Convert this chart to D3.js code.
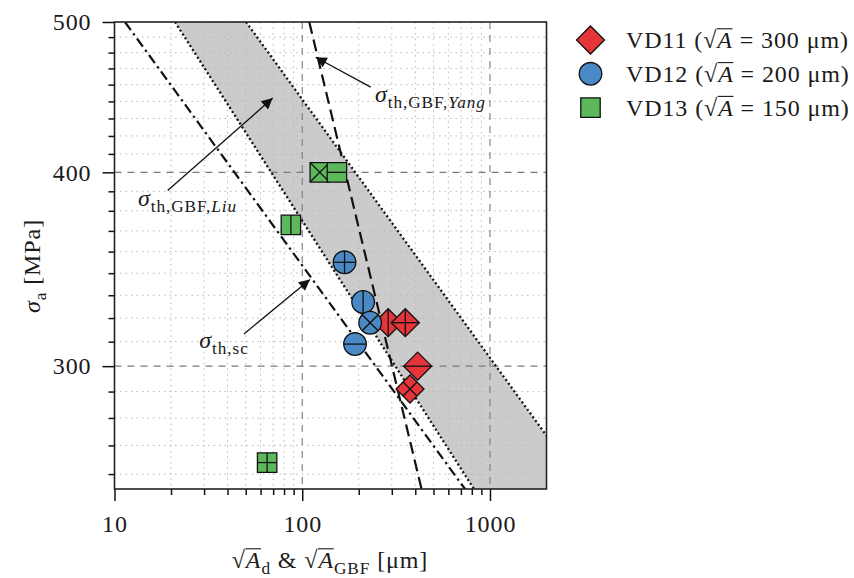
<!DOCTYPE html>
<html>
<head>
<meta charset="utf-8">
<script src="https://cdn.jsdelivr.net/npm/d3@7"></script>
<style>
  body { margin: 0; background: #fff; }
  svg { display: block; }
  text { font-family: "Liberation Serif", "Times New Roman", serif; fill: #1a1a1a; letter-spacing: 0.9px; }
</style>
</head>
<body>
<svg id="chart" width="854" height="578"></svg>
<script>
// ---------------- data ----------------
const xDomain = [10, 2000];            // sqrt(area) [µm]
const yDomain = [250, 500];            // stress amplitude [MPa]
const xMajorTicks = [10, 100, 1000];
const yMajorTicks = [300, 400, 500];
const xMinorTicks = [20, 30, 40, 50, 60, 70, 80, 90, 200, 300, 400, 500, 600, 700, 800, 900];
const yMinorTicks = [255.6, 266.7, 277.8, 288.9, 311.1, 322.2, 333.3, 344.4, 355.6, 366.7,
                     377.8, 388.9, 411.1, 422.2, 433.3, 444.4, 455.6, 466.7, 477.8, 488.9];

// specimens
const specimenNames = ["VD11", "VD12", "VD13"];
const specimenArea = [300, 200, 150];
const specimenShape = ["diamond", "circle", "square"];
const specimenColor = ["#e3353a", "#4a89c5", "#5cb85a"];

// defect / GBF size and stress amplitude per specimen, with the inner glyph of each point
const vd11X = [287, 354, 412, 375];
const vd11Y = [320, 320, 300, 290];
const vd11Glyph = ["|", "+", "-", "x"];
const vd12X = [168, 211, 230, 191];
const vd12Y = [350, 330, 320, 310];
const vd12Glyph = ["+", "|", "x", "-"];
const vd13X = [124, 153, 87, 65];
const vd13Y = [400, 400, 370, 260];
const vd13Glyph = ["x", "-", "|", "+"];

// threshold lines (straight in log-log), each given by two points [x, sigma]
const scLine = [[11.37, 500], [736, 250]];
const liuLower = [[21.0, 500], [821.7, 250]];
const liuUpper = [[50.2, 500], [2000, 270.6]];
const yangLine = [[109, 500], [432, 250]];

// annotations: text anchor and arrow tail/tip, in data units
const annotations = [
  { parts: [{ t: "σ", it: true }, { t: "th,GBF,", sub: true }, { t: "Liu", sub: true, it: true }],
    at: [13.34, 380.6], from: [19.2, 389.3], to: [69.6, 446.6] },
  { parts: [{ t: "σ", it: true }, { t: "th,GBF,", sub: true }, { t: "Yang", sub: true, it: true }],
    at: [244, 444.3], from: [231.5, 453.9], to: [117.9, 474.5] },
  { parts: [{ t: "σ", it: true }, { t: "th,sc", sub: true }],
    at: [28.3, 308.3], from: [48.9, 314.7], to: [110, 341.2] }
];

// ---------------- layout ----------------
const svg = d3.select("#chart");
const plot = { left: 114.5, right: 546.5, top: 22, bottom: 489 };
const x = d3.scaleLog().domain(xDomain).range([plot.left, plot.right]);
const y = d3.scaleLog().domain(yDomain).range([plot.bottom, plot.top]);
const FS = 24;

svg.append("defs").append("clipPath").attr("id", "plotClip")
  .append("rect")
  .attr("x", plot.left).attr("y", plot.top)
  .attr("width", plot.right - plot.left).attr("height", plot.bottom - plot.top);

const body = svg.append("g").attr("clip-path", "url(#plotClip)");

// scatter band between the two Liu bounds
const bandPts = [liuLower[0], liuLower[1], [xDomain[1], yDomain[0]], liuUpper[1], liuUpper[0]];
body.append("path")
  .attr("d", d3.line().x(d => x(d[0])).y(d => y(d[1]))(bandPts) + "Z")
  .attr("fill", "#cbcbcb");

// grid
const grid = body.append("g");
grid.selectAll(".vmin").data(xMinorTicks).join("line")
  .attr("x1", d => x(d)).attr("x2", d => x(d))
  .attr("y1", plot.top).attr("y2", plot.bottom)
  .attr("stroke", "#b8b8b8").attr("stroke-width", 1).attr("stroke-dasharray", "1.5,4");
grid.selectAll(".hmin").data(yMinorTicks).join("line")
  .attr("y1", d => y(d)).attr("y2", d => y(d))
  .attr("x1", plot.left).attr("x2", plot.right)
  .attr("stroke", "#b8b8b8").attr("stroke-width", 1).attr("stroke-dasharray", "1.5,4");
grid.selectAll(".vmaj").data(xMajorTicks.slice(1)).join("line")
  .attr("x1", d => x(d)).attr("x2", d => x(d))
  .attr("y1", plot.top).attr("y2", plot.bottom)
  .attr("stroke", "#7a7a7a").attr("stroke-width", 1.1).attr("stroke-dasharray", "7,6");
grid.selectAll(".hmaj").data(yMajorTicks.slice(0, 2)).join("line")
  .attr("y1", d => y(d)).attr("y2", d => y(d))
  .attr("x1", plot.left).attr("x2", plot.right)
  .attr("stroke", "#7a7a7a").attr("stroke-width", 1.1).attr("stroke-dasharray", "7,6");

// threshold lines
const lineGen = d3.line().x(d => x(d[0])).y(d => y(d[1]));
const styles = [
  { pts: liuLower, dash: "2,2.6", w: 2.3 },
  { pts: liuUpper, dash: "2,2.6", w: 2.3 },
  { pts: scLine, dash: "10,4,2.4,4", w: 2.2 },
  { pts: yangLine, dash: "12,6", w: 2.2 }
];
styles.forEach(s => {
  body.append("path").attr("d", lineGen(s.pts))
    .attr("fill", "none").attr("stroke", "#111")
    .attr("stroke-width", s.w).attr("stroke-dasharray", s.dash);
});

// rich text helper: italic, subscript and overlined segments
function richText(parent, parts, px, py, fs, anchor) {
  const t = parent.append("text").attr("x", px).attr("y", py)
    .attr("font-size", fs).attr("text-anchor", anchor || "start");
  let sub = false, idx = 0;
  const overs = [];
  const shift = 0.27 * fs;
  parts.forEach(p => {
    const ts = t.append("tspan").text(p.t);
    if (p.it) ts.attr("font-style", "italic");
    if (p.sub) ts.attr("font-size", 0.72 * fs);
    if (p.sub && !sub) { ts.attr("dy", shift); sub = true; }
    else if (!p.sub && sub) { ts.attr("dy", -shift); sub = false; }
    if (p.over) overs.push([idx, p.t.length]);
    idx += p.t.length;
  });
  overs.forEach(([i, n]) => {
    const a = t.node().getExtentOfChar(i);
    const b = t.node().getExtentOfChar(i + n - 1);
    parent.append("line")
      .attr("x1", a.x - 0.5).attr("x2", b.x + b.width - 0.3)
      .attr("y1", py - 0.80 * fs).attr("y2", py - 0.80 * fs)
      .attr("stroke", "#1a1a1a").attr("stroke-width", 1.1);
  });
  return t;
}

// annotations
const ann = svg.append("g");
const defs = svg.select("defs");
defs.append("marker").attr("id", "arrowHead")
  .attr("viewBox", "0 0 10 10").attr("refX", 10).attr("refY", 5)
  .attr("markerUnits", "userSpaceOnUse").attr("markerWidth", 19).attr("markerHeight", 11)
  .attr("orient", "auto")
  .append("path").attr("d", "M0,0 L10,5 L0,10 Z").attr("fill", "#111");
annotations.forEach(a => {
  ann.append("line")
    .attr("x1", x(a.from[0])).attr("y1", y(a.from[1]))
    .attr("x2", x(a.to[0])).attr("y2", y(a.to[1]))
    .attr("stroke", "#111").attr("stroke-width", 1.3)
    .attr("marker-end", "url(#arrowHead)");
  richText(ann, a.parts, x(a.at[0]), y(a.at[1]), FS);
});

// markers
const SIZE = { diamond: 14, circle: 11.3, square: 9.7 };
function shapePath(shape, e) {
  if (shape === "diamond") return `M0,${-e}L${e},0L0,${e}L${-e},0Z`;
  if (shape === "square") return `M${-e},${-e}H${e}V${e}H${-e}Z`;
  return `M${e},0A${e},${e} 0 1,1 ${-e},0A${e},${e} 0 1,1 ${e},0Z`;
}
function glyphSegs(shape, g, e) {
  const d = shape === "diamond" ? e / 2 : shape === "circle" ? e * Math.SQRT1_2 : e;
  if (g === "+") return [[-e, 0, e, 0], [0, -e, 0, e]];
  if (g === "|") return [[0, -e, 0, e]];
  if (g === "-") return [[-e, 0, e, 0]];
  return [[-d, -d, d, d], [-d, d, d, -d]];
}
function drawMarker(parent, shape, color, cx, cy, glyph) {
  const e = SIZE[shape];
  const g = parent.append("g").attr("transform", `translate(${cx},${cy})`);
  g.append("path").attr("d", shapePath(shape, e))
    .attr("fill", color).attr("stroke", "#111").attr("stroke-width", 1.3);
  if (glyph) {
    glyphSegs(shape, glyph, e).forEach(s => {
      g.append("line").attr("x1", s[0]).attr("y1", s[1]).attr("x2", s[2]).attr("y2", s[3])
        .attr("stroke", "#111").attr("stroke-width", 1.3);
    });
  }
}
const seriesX = [vd11X, vd12X, vd13X];
const seriesY = [vd11Y, vd12Y, vd13Y];
const seriesG = [vd11Glyph, vd12Glyph, vd13Glyph];
const pts = svg.append("g");
specimenNames.forEach((n, i) => {
  seriesX[i].forEach((xv, j) => {
    drawMarker(pts, specimenShape[i], specimenColor[i], x(xv), y(seriesY[i][j]), seriesG[i][j]);
  });
});

// axes
const axG = svg.append("g");
const xMaj = d3.axisBottom(x).tickValues(xMajorTicks).tickFormat(d3.format("d"))
  .tickSize(12).tickSizeOuter(0).tickPadding(14);
const xMin = d3.axisBottom(x).tickValues(xMinorTicks).tickFormat("").tickSize(6).tickSizeOuter(0);
const yMaj = d3.axisLeft(y).tickValues(yMajorTicks).tickFormat(d3.format("d"))
  .tickSize(12).tickSizeOuter(0).tickPadding(11);
const yMin = d3.axisLeft(y).tickValues(yMinorTicks).tickFormat("").tickSize(6).tickSizeOuter(0);
[[xMaj, "b"], [xMin, "b"], [yMaj, "l"], [yMin, "l"]].forEach(([ax, side]) => {
  const g = axG.append("g")
    .attr("transform", side === "b" ? `translate(0,${plot.bottom})` : `translate(${plot.left},0)`)
    .call(ax);
  g.select(".domain").remove();
  g.selectAll("line").attr("stroke", "#111").attr("stroke-width", 1.5);
  g.selectAll("text").attr("font-size", FS).attr("font-family", null).attr("fill", "#1a1a1a");
});

// frame
axG.append("rect")
  .attr("x", plot.left).attr("y", plot.top)
  .attr("width", plot.right - plot.left).attr("height", plot.bottom - plot.top)
  .attr("fill", "none").attr("stroke", "#222").attr("stroke-width", 1.6);

// axis titles
richText(svg, [{ t: "√" }, { t: "A", it: true, over: true }, { t: "d", sub: true },
  { t: " & √" }, { t: "A", it: true, over: true }, { t: "GBF", sub: true }, { t: " [μm]" }],
  330, 568, FS, "middle");
const yTitle = svg.append("g").attr("transform", "translate(40,266) rotate(-90)");
richText(yTitle, [{ t: "σ", it: true }, { t: "a", sub: true }, { t: " [MPa]" }], 0, 0, FS, "middle");

// legend
const legend = svg.append("g");
specimenNames.forEach((n, i) => {
  const cy = 40 + i * 33.8;
  drawMarker(legend, specimenShape[i], specimenColor[i], 590.5, cy, null);
  richText(legend, [{ t: n + " (√" }, { t: "A", it: true, over: true }, { t: " = " + specimenArea[i] + " μm)" }],
    626, cy + 8, FS);
});
</script>
</body>
</html>
